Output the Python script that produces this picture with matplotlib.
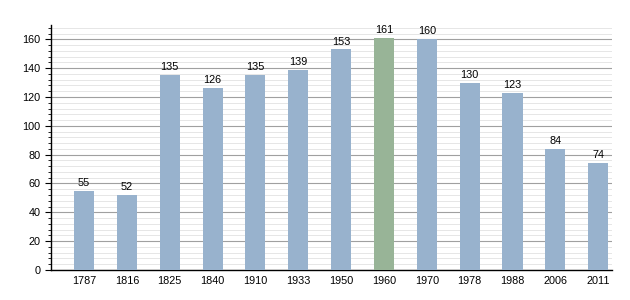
import numpy as np
from matplotlib import pyplot as plt

years = ['1787', '1816', '1825', '1840', '1910', '1933', '1950', '1960', '1970', '1978', '1988', '2006', '2011']
population = [55, 52, 135, 126, 135, 139, 153, 161, 160, 130, 123, 84, 74]
highlight = '1960'

blue = '#98b2cd'
green = '#98b497'

plt.rcParams['font.family'] = ['Liberation Sans', 'DejaVu Sans']

fig = plt.figure(figsize=(6.3, 3.0), dpi=100)
ax = fig.add_axes([0.081, 0.1, 0.891, 0.817])

x = np.arange(len(years))
colors = [green if y == highlight else blue for y in years]
ax.bar(x, population, width=0.47, color=colors, zorder=3)

for xi, v in zip(x, population):
    ax.text(xi, v + 2, str(v), ha='center', va='bottom', fontsize=7.8, zorder=4)

ax.set_xlim(-0.77, 12.33)
ax.set_ylim(0, 170)
ax.set_xticks(x)
ax.set_xticklabels(years, fontsize=7.8)
ax.set_yticks(np.arange(0, 161, 20))
ax.set_yticks(np.arange(0, 170, 4), minor=True)
ax.tick_params(axis='y', labelsize=7.8, length=4, width=0.8)
ax.tick_params(axis='y', which='minor', length=2, width=0.6)
ax.tick_params(axis='x', length=0, pad=4)

ax.grid(axis='y', which='major', color='#a0a0a0', linewidth=0.8, zorder=0)
ax.grid(axis='y', which='minor', color='#e2e2e2', linewidth=0.6, zorder=0)

for s in ['top', 'right']:
    ax.spines[s].set_visible(False)
ax.spines['left'].set_linewidth(1.0)
ax.spines['bottom'].set_linewidth(1.0)

fig.savefig('out.png', dpi=100)
